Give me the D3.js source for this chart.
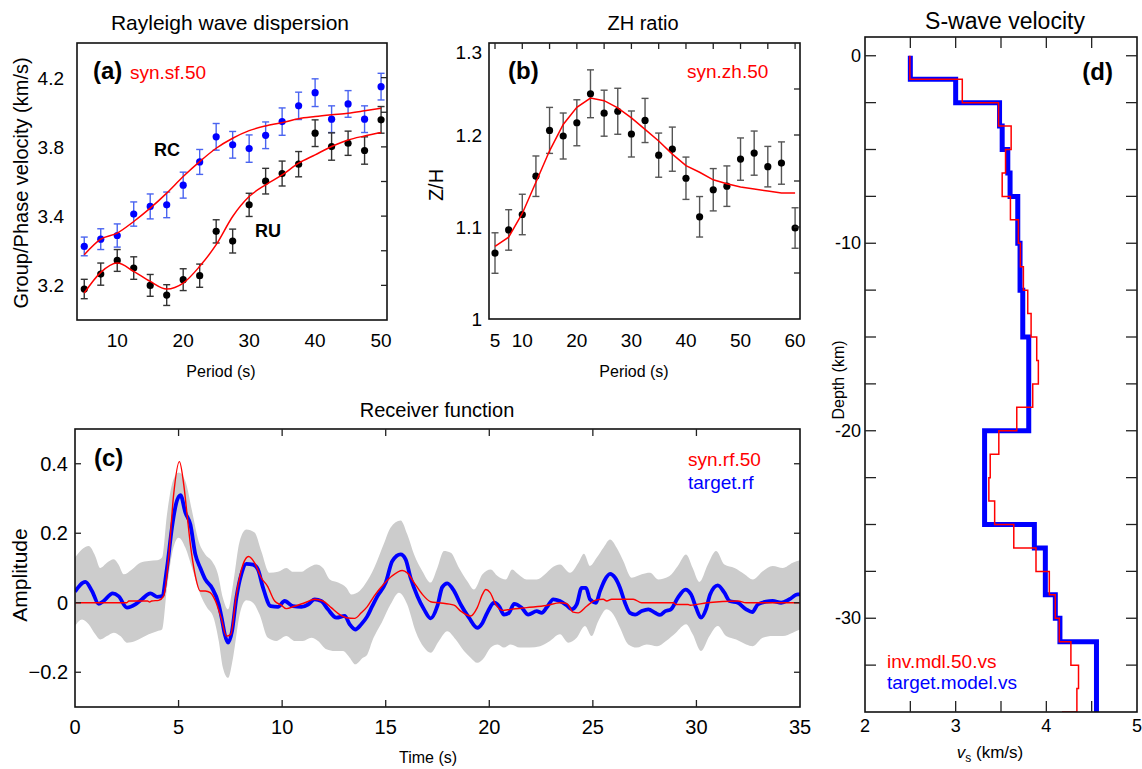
<!DOCTYPE html>
<html>
<head>
<meta charset="utf-8">
<script src="https://cdn.jsdelivr.net/npm/d3@7"></script>
<style>
body { margin: 0; background: #fff; }
svg { display: block; }
text { font-family: "Liberation Sans", Arial, Helvetica, sans-serif; }
</style>
</head>
<body>
<div id="fig"></div>
<script>
// ---- (a) Rayleigh wave dispersion ----
const periodA = [5, 7.5, 10, 12.5, 15, 17.5, 20, 22.5, 25, 27.5, 30, 32.5, 35, 37.5, 40, 42.5, 45, 47.5, 50];
const rcVel = [3.225, 3.267, 3.288, 3.412, 3.456, 3.465, 3.579, 3.713, 3.858, 3.812, 3.790, 3.867, 3.946, 4.037, 4.113, 3.960, 4.048, 3.960, 4.148];
const rcErr = [0.054, 0.06, 0.067, 0.07, 0.072, 0.074, 0.075, 0.072, 0.077, 0.077, 0.079, 0.077, 0.079, 0.079, 0.08, 0.077, 0.077, 0.077, 0.077];
const ruVel = [2.979, 3.065, 3.144, 3.100, 3.000, 2.944, 3.033, 3.056, 3.312, 3.256, 3.465, 3.602, 3.646, 3.700, 3.879, 3.802, 3.821, 3.779, 3.956];
const ruErr = [0.056, 0.064, 0.063, 0.065, 0.063, 0.06, 0.063, 0.067, 0.067, 0.069, 0.067, 0.074, 0.072, 0.073, 0.077, 0.079, 0.07, 0.079, 0.077];
const rcFit = [3.177, 3.267, 3.302, 3.369, 3.446, 3.533, 3.629, 3.715, 3.792, 3.85, 3.894, 3.921, 3.940, 3.963, 3.975, 3.985, 3.994, 4.008, 4.023];
const ruFit = [2.956, 3.075, 3.129, 3.081, 3.023, 2.979, 3.013, 3.110, 3.235, 3.398, 3.513, 3.581, 3.638, 3.706, 3.754, 3.802, 3.840, 3.863, 3.883];
const tickA_x = [10, 20, 30, 40, 50];
const tickA_y = [3.0, 3.4, 3.8, 4.2];
const tickA_ylab = ["3.2", "3.4", "3.8", "4.2"];
const tickA_right = [3.0, 3.2, 3.4, 3.6, 3.8, 4.0, 4.2];

// ---- (b) ZH ratio ----
const periodB = [5, 7.5, 10, 12.5, 15, 17.5, 20, 22.5, 25, 27.5, 30, 32.5, 35, 37.5, 40, 42.5, 45, 47.5, 50, 52.5, 55, 57.5, 60];
const zhObs = [1.0717, 1.0968, 1.1136, 1.1552, 1.2050, 1.1989, 1.2133, 1.2448, 1.2237, 1.2258, 1.2011, 1.2158, 1.1781, 1.1846, 1.1530, 1.1111, 1.1405, 1.1444, 1.1738, 1.1803, 1.1656, 1.1695, 1.0989];
const zhErr = [0.022, 0.022, 0.022, 0.022, 0.025, 0.025, 0.025, 0.026, 0.025, 0.025, 0.025, 0.024, 0.024, 0.024, 0.023, 0.022, 0.023, 0.022, 0.023, 0.024, 0.022, 0.023, 0.022];
const zhFit = [1.0789, 1.0889, 1.1147, 1.1487, 1.1828, 1.2115, 1.2301, 1.2401, 1.2373, 1.2294, 1.2186, 1.2061, 1.1935, 1.1792, 1.1667, 1.1595, 1.1513, 1.1470, 1.1434, 1.1412, 1.1391, 1.1369, 1.1369];
const tickB_x = [5, 10, 20, 30, 40, 50, 60];
const tickB_top = [5, 10, 15, 20, 25, 30, 35, 40, 45, 50, 55, 60];
const tickB_y = [1, 1.1, 1.2, 1.3];
const tickB_ylab = ["1", "1.1", "1.2", "1.3"];
const tickB_right = [1.05, 1.1, 1.15, 1.2, 1.25];

// ---- (c) Receiver function: [time, amplitude] ----
const targetRF = [[0,0.032],[0.5,0.060],[0.82,0.034],[1.14,-0.003],[1.38,0.005],[1.82,0.027],[2.1,0.019],[2.51,-0.014],[2.91,-0.005],[3.23,0.010],[3.64,0.027],[3.96,0.017],[4.2,0.019],[4.44,0.10],[4.68,0.216],[4.88,0.285],[5.09,0.310],[5.33,0.259],[5.57,0.225],[5.81,0.139],[6.05,0.10],[6.29,0.067],[6.61,0.043],[6.94,-0.005],[7.1,-0.05],[7.23,-0.091],[7.39,-0.115],[7.58,-0.082],[7.79,0.014],[8.03,0.082],[8.27,0.112],[8.59,0.110],[8.83,0.096],[9.07,0.045],[9.45,-0.010],[9.8,-0.012],[10.12,0.005],[10.52,-0.010],[10.93,-0.012],[11.25,-0.005],[11.57,0.010],[11.89,0.005],[12.21,-0.019],[12.62,-0.043],[13.02,-0.038],[13.26,-0.062],[13.53,-0.077],[13.82,-0.062],[14.1,-0.04],[14.35,-0.01],[14.6,0.019],[15.0,0.058],[15.32,0.120],[15.72,0.139],[15.96,0.125],[16.2,0.072],[16.53,0.019],[16.85,-0.019],[17.17,-0.045],[17.49,-0.010],[17.73,0.045],[17.97,0.056],[18.3,0.034],[18.62,-0.005],[19.02,-0.043],[19.42,-0.072],[19.67,-0.058],[19.9,-0.029],[20.23,0.0],[20.47,-0.010],[20.71,-0.034],[20.95,-0.029],[21.2,-0.003],[21.56,-0.014],[21.88,-0.034],[22.29,-0.024],[22.53,-0.029],[22.77,-0.014],[23.09,0.010],[23.41,0.005],[23.73,-0.007],[23.98,-0.019],[24.22,-0.005],[24.46,0.043],[24.67,0.043],[24.86,0.010],[25.15,0.0],[25.35,0.034],[25.59,0.067],[25.83,0.083],[26.07,0.072],[26.31,0.043],[26.55,0.0],[26.79,-0.029],[27.04,-0.034],[27.36,-0.024],[27.68,-0.019],[28.0,-0.029],[28.24,-0.035],[28.5,-0.024],[28.77,-0.019],[29.1,0.014],[29.47,0.038],[29.74,0.024],[29.98,-0.014],[30.22,-0.043],[30.46,-0.019],[30.66,0.024],[31.03,0.050],[31.35,0.029],[31.6,0.005],[32.0,0.0],[32.4,-0.019],[32.7,-0.027],[32.96,-0.005],[33.36,0.003],[33.68,0.005],[34.09,0.0],[34.49,0.010],[34.89,0.024],[35,0.024]];
const synRF = [[0,0],[2.5,0],[2.6,0.005],[3.5,0.005],[3.6,0.002],[3.7,0.005],[4.04,0.007],[4.28,0.019],[4.52,0.13],[4.76,0.31],[5.04,0.406],[5.25,0.34],[5.41,0.254],[5.57,0.168],[5.78,0.086],[6.05,0.034],[6.29,0.034],[6.53,0.029],[6.78,0.005],[7.06,-0.045],[7.31,-0.096],[7.52,-0.091],[7.79,0.024],[8.11,0.110],[8.38,0.133],[8.67,0.115],[8.99,0.072],[9.29,0.048],[9.64,0.005],[9.96,-0.007],[10.2,-0.017],[10.6,-0.010],[11.09,0.0],[11.57,0.010],[11.97,0.005],[12.37,-0.014],[12.78,-0.034],[13.1,-0.043],[13.5,-0.045],[13.82,-0.029],[14.1,-0.012],[14.44,0.019],[14.9,0.053],[15.3,0.077],[15.8,0.093],[16.04,0.086],[16.37,0.058],[16.77,0.024],[17.17,0.003],[17.57,0.0],[18.3,-0.007],[18.62,-0.024],[19.1,-0.038],[19.42,-0.014],[19.67,0.024],[19.83,0.038],[20.04,0.029],[20.31,-0.005],[20.63,-0.022],[21.03,-0.019],[21.8,-0.014],[22.77,-0.008],[23.41,0.0],[23.73,-0.002],[24.05,-0.027],[24.29,-0.029],[24.7,-0.010],[25.1,0.007],[25.5,0.010],[25.67,0.005],[25.91,0.010],[26.95,0.010],[27.36,0.0],[28.9,0.0],[29.0,-0.005],[29.6,-0.005],[29.7,-0.007],[30.5,0.0],[32.0,0.005],[32.4,0.0],[35,0.0]];
const bandUp = [[0,0.13],[0.34,0.154],[0.66,0.163],[0.98,0.134],[1.22,0.10],[1.54,0.115],[1.87,0.125],[2.1,0.110],[2.35,0.082],[2.75,0.096],[3.15,0.115],[3.56,0.120],[3.96,0.122],[4.2,0.130],[4.44,0.254],[4.68,0.34],[5.0,0.375],[5.33,0.35],[5.65,0.264],[5.97,0.177],[6.29,0.139],[6.61,0.12],[6.9,0.082],[7.14,0.014],[7.39,-0.019],[7.63,0.053],[7.95,0.177],[8.27,0.211],[8.67,0.202],[8.99,0.149],[9.39,0.086],[9.8,0.089],[10.2,0.10],[10.52,0.089],[10.93,0.089],[11.25,0.10],[11.65,0.110],[11.97,0.10],[12.3,0.067],[12.7,0.058],[13.1,0.043],[13.34,0.024],[13.74,0.034],[14.0,0.053],[14.44,0.10],[14.9,0.168],[15.23,0.216],[15.72,0.237],[16.04,0.197],[16.37,0.139],[16.77,0.091],[17.17,0.058],[17.49,0.10],[17.81,0.149],[18.14,0.144],[18.54,0.10],[18.94,0.062],[19.26,0.038],[19.67,0.082],[20.07,0.096],[20.4,0.077],[20.8,0.067],[21.1,0.096],[21.4,0.082],[21.8,0.067],[22.29,0.067],[22.69,0.082],[23.01,0.10],[23.41,0.110],[23.9,0.086],[24.3,0.115],[24.57,0.141],[24.86,0.106],[25.19,0.130],[25.51,0.158],[25.83,0.182],[26.15,0.158],[26.47,0.120],[26.87,0.072],[27.36,0.082],[27.76,0.086],[28.15,0.067],[28.7,0.077],[29.1,0.106],[29.5,0.139],[29.82,0.10],[30.14,0.060],[30.55,0.110],[30.95,0.149],[31.35,0.110],[31.84,0.10],[32.32,0.082],[32.72,0.067],[33.2,0.091],[33.68,0.106],[34.17,0.10],[34.65,0.115],[35,0.122]];
const bandLo = [[0,-0.067],[0.34,-0.048],[0.66,-0.062],[0.98,-0.091],[1.22,-0.106],[1.54,-0.096],[1.87,-0.086],[2.19,-0.096],[2.51,-0.115],[2.91,-0.110],[3.23,-0.101],[3.56,-0.091],[3.96,-0.082],[4.2,-0.077],[4.44,0.043],[4.68,0.139],[5.0,0.187],[5.33,0.158],[5.65,0.10],[6.05,0.024],[6.37,-0.014],[6.69,-0.043],[6.94,-0.11],[7.14,-0.187],[7.39,-0.216],[7.63,-0.158],[7.95,-0.034],[8.27,0.007],[8.59,0.0],[8.91,-0.034],[9.31,-0.101],[9.72,-0.110],[10.2,-0.096],[10.6,-0.110],[11.0,-0.110],[11.41,-0.101],[11.73,-0.110],[12.14,-0.134],[12.54,-0.139],[12.94,-0.139],[13.26,-0.158],[13.53,-0.177],[13.9,-0.158],[14.1,-0.15],[14.35,-0.110],[14.84,-0.053],[15.23,-0.005],[15.64,0.029],[16.04,-0.005],[16.44,-0.082],[16.85,-0.129],[17.17,-0.144],[17.57,-0.110],[17.97,-0.082],[18.38,-0.106],[18.78,-0.139],[19.1,-0.158],[19.42,-0.173],[19.75,-0.158],[20.07,-0.129],[20.4,-0.120],[20.71,-0.129],[21.03,-0.120],[21.48,-0.129],[21.96,-0.129],[22.45,-0.125],[22.93,-0.110],[23.41,-0.091],[23.81,-0.115],[24.22,-0.101],[24.62,-0.067],[24.94,-0.096],[25.26,-0.053],[25.67,-0.019],[25.99,-0.034],[26.31,-0.072],[26.71,-0.120],[27.11,-0.129],[27.6,-0.120],[28.1,-0.125],[28.53,-0.110],[29.01,-0.086],[29.5,-0.062],[29.82,-0.091],[30.22,-0.139],[30.63,-0.096],[31.03,-0.067],[31.43,-0.096],[31.92,-0.106],[32.4,-0.120],[32.72,-0.125],[33.2,-0.101],[33.68,-0.096],[34.17,-0.096],[34.65,-0.086],[35,-0.077]];
const tickC_x = [0, 5, 10, 15, 20, 25, 30, 35];
const tickC_y = [-0.2, 0, 0.2, 0.4];
const tickC_ylab = ["\u22120.2", "0", "0.2", "0.4"];

// ---- (d) S-wave velocity: layer tops (km) and vs (km/s) ----
const targetTop = [0, -1.25, -2.5, -3.75, -5, -6.25, -7.5, -10, -12.5, -15, -20, -25, -26.25, -28.75, -30, -31.25, -35];
const targetVs = [2.5, 3.0, 3.484, 3.513, 3.575, 3.6, 3.685, 3.71, 3.74, 3.806, 3.319, 3.868, 3.989, 4.099, 4.15, 4.553];
const invTop = [0, -1.25, -2.5, -3.75, -5, -6.25, -7.5, -8.75, -10, -11.25, -12.5, -13.75, -15, -16.25, -17.5, -18.75, -20, -21.25, -22.5, -23.75, -25, -26.25, -27.5, -28.75, -30, -31.25, -32.5, -33.75, -35, -36.25];
const invVs = [2.495, 3.073, 3.473, 3.612, 3.55, 3.513, 3.604, 3.692, 3.714, 3.747, 3.795, 3.832, 3.894, 3.912, 3.85, 3.674, 3.476, 3.381, 3.366, 3.43, 3.641, 3.886, 4.033, 4.099, 4.143, 4.271, 4.355, 4.337, 4.18];
const tickD_x = [2, 3, 4, 5];
const tickD_minor = [2.5, 3, 3.5, 4, 4.5];
const tickD_y = [0, -10, -20, -30];
const tickD_ylab = ["0", "-10", "-20", "-30"];
const tickD_side = [0, -2.5, -5, -7.5, -10, -12.5, -15, -17.5, -20, -22.5, -25, -27.5, -30, -32.5];

const svg = d3.select("#fig").append("svg").attr("width", 1142).attr("height", 769);

function clip(id, x0, y0, x1, y1) {
    svg.append("clipPath").attr("id", id).append("rect")
        .attr("x", x0).attr("y", y0).attr("width", x1 - x0).attr("height", y1 - y0);
}

function label(x, y, s, size, anchor, color, weight) {
    return svg.append("text").attr("x", x).attr("y", y).text(s)
        .style("font-size", size + "px")
        .attr("text-anchor", anchor || "start")
        .attr("fill", color || "#000")
        .style("font-weight", weight || "normal");
}

function vlabel(x, y, s, size) {
    svg.append("text").attr("transform", "translate(" + x + "," + y + ") rotate(-90)")
        .attr("text-anchor", "middle").style("font-size", size + "px").text(s);
}

// inward tick marks on one side of a frame
function ticks(side, vals, scale, pos, len) {
    vals.forEach(v => {
        let p = scale(v);
        let l = svg.append("line").attr("stroke", "#222").attr("stroke-width", 1.3);
        if (side == "left") l.attr("x1", pos).attr("x2", pos + len).attr("y1", p).attr("y2", p);
        if (side == "right") l.attr("x1", pos).attr("x2", pos - len).attr("y1", p).attr("y2", p);
        if (side == "top") l.attr("y1", pos).attr("y2", pos + len).attr("x1", p).attr("x2", p);
        if (side == "bottom") l.attr("y1", pos).attr("y2", pos - len).attr("x1", p).attr("x2", p);
    });
}

function box(x0, y0, x1, y1) {
    svg.append("rect").attr("x", x0).attr("y", y0).attr("width", x1 - x0).attr("height", y1 - y0)
        .attr("fill", "none").attr("stroke", "#111").attr("stroke-width", 1.6);
}

function errorbars(g, xs, ys, es, sx, sy, barColor, dotColor) {
    xs.forEach((p, i) => {
        let x = sx(p);
        g.append("line").attr("x1", x).attr("x2", x).attr("y1", sy(ys[i] - es[i])).attr("y2", sy(ys[i] + es[i]))
            .attr("stroke", barColor).attr("stroke-width", 1.4);
        [ys[i] - es[i], ys[i] + es[i]].forEach(v => {
            g.append("line").attr("x1", x - 3.5).attr("x2", x + 3.5).attr("y1", sy(v)).attr("y2", sy(v))
                .attr("stroke", barColor).attr("stroke-width", 1.4);
        });
    });
    g.selectAll(null).data(xs).enter().append("circle")
        .attr("cx", d => sx(d)).attr("cy", (d, i) => sy(ys[i])).attr("r", 3.6)
        .attr("fill", dotColor);
}

// ================= panel (a) =================
const xA = d3.scaleLinear().domain([3.9, 50.9]).range([77, 387]);
const yA = d3.scaleLinear().domain([2.8, 4.4]).range([320, 43]);
clip("clipA", 77, 43, 387, 320);
const gA = svg.append("g").attr("clip-path", "url(#clipA)");
errorbars(gA, periodA, rcVel, rcErr, xA, yA, "#4a64f0", "#0000ff");
errorbars(gA, periodA, ruVel, ruErr, xA, yA, "#333", "#000");
const lineA = d3.line().x((d, i) => xA(periodA[i])).y(d => yA(d)).curve(d3.curveMonotoneX);
[rcFit, ruFit].forEach(f => {
    gA.append("path").datum(f).attr("d", lineA).attr("fill", "none").attr("stroke", "#ff0000").attr("stroke-width", 1.5);
});
box(77, 43, 387, 320);
ticks("right", tickA_right, yA, 387, 6);
tickA_x.forEach(v => label(xA(v), 347, v, 19, "middle"));
tickA_y.forEach((v, i) => label(64, yA(v) + 7, tickA_ylab[i], 19, "end"));
label(230, 30, "Rayleigh wave dispersion", 21, "middle");
label(221, 377, "Period (s)", 16, "middle");
vlabel(28, 183, "Group/Phase velocity (km/s)", 20);
label(93, 79, "(a)", 24, "start", "#000", "bold");
label(130, 79, "syn.sf.50", 19, "start", "#ff0000");
label(167, 156, "RC", 18, "middle", "#000", "bold");
label(268, 237, "RU", 18, "middle", "#000", "bold");

// ================= panel (b) =================
const xB = d3.scaleLinear().domain([3.9, 60.9]).range([489, 800]);
const yB = d3.scaleLinear().domain([1.0, 1.3]).range([319, 43]);
clip("clipB", 489, 43, 800, 319);
const gB = svg.append("g").attr("clip-path", "url(#clipB)");
errorbars(gB, periodB, zhObs, zhErr, xB, yB, "#555", "#000");
const lineB = d3.line().x((d, i) => xB(periodB[i])).y(d => yB(d));
gB.append("path").datum(zhFit).attr("d", lineB).attr("fill", "none").attr("stroke", "#ff0000").attr("stroke-width", 1.5);
box(489, 43, 800, 319);
ticks("right", tickB_right, yB, 800, 6);
ticks("top", tickB_top, xB, 43, 6);
tickB_x.forEach(v => label(xB(v), 347, v, 19, "middle"));
tickB_y.forEach((v, i) => label(482, Math.max(yB(v), 52) + 7, tickB_ylab[i], 19, "end"));
label(643, 30, "ZH ratio", 20, "middle");
label(634, 377, "Period (s)", 16, "middle");
vlabel(443, 185, "Z/H", 20);
label(508, 79, "(b)", 24, "start", "#000", "bold");
label(687, 78, "syn.zh.50", 19, "start", "#ff0000");

// ================= panel (c) =================
const xC = d3.scaleLinear().domain([0, 35]).range([75, 800]);
const yC = d3.scaleLinear().domain([-0.3, 0.5]).range([707, 429]);
clip("clipC", 75, 429, 800, 707);
const gC = svg.append("g").attr("clip-path", "url(#clipC)");
const lineC = d3.line().x(d => xC(d[0])).y(d => yC(d[1])).curve(d3.curveMonotoneX);
const bandPath = lineC(bandUp) + "L" + lineC(bandLo.slice().reverse()).slice(1) + "Z";
gC.append("path").attr("d", bandPath).attr("fill", "#cccccc").attr("stroke", "none");
gC.append("path").datum(targetRF).attr("d", lineC).attr("fill", "none").attr("stroke", "#0000ff").attr("stroke-width", 3.8);
gC.append("path").datum(synRF).attr("d", lineC).attr("fill", "none").attr("stroke", "#ff0000").attr("stroke-width", 1.4);
box(75, 429, 800, 707);
ticks("top", tickC_x.slice(1, -1), xC, 429, 7);
ticks("bottom", tickC_x.slice(1, -1), xC, 707, 7);
ticks("left", tickC_y, yC, 75, 6);
ticks("right", tickC_y, yC, 800, 6);
tickC_x.forEach(v => label(xC(v), 734, v, 20, "middle"));
tickC_y.forEach((v, i) => label(68, yC(v) + 7, tickC_ylab[i], 20, "end"));
label(437, 417, "Receiver function", 20, "middle");
label(428, 763, "Time (s)", 16, "middle");
vlabel(27, 575, "Amplitude", 21);
label(94, 466, "(c)", 24, "start", "#000", "bold");
label(688, 466, "syn.rf.50", 19, "start", "#ff0000");
label(688, 489, "target.rf", 19, "start", "#0000ff");

// ================= panel (d) =================
const xD = d3.scaleLinear().domain([2, 5]).range([865, 1137]);
const yD = d3.scaleLinear().domain([-35, 1]).range([712, 37]);
clip("clipD", 865, 37, 1137, 712);
const gD = svg.append("g").attr("clip-path", "url(#clipD)");
function steps(tops, vs) {
    let pts = [];
    vs.forEach((v, i) => { pts.push([v, tops[i]]); pts.push([v, tops[i + 1]]); });
    return pts;
}
const lineD = d3.line().x(d => xD(d[0])).y(d => yD(d[1]));
gD.append("path").datum(steps(targetTop, targetVs)).attr("d", lineD).attr("fill", "none")
    .attr("stroke", "#0000ff").attr("stroke-width", 5);
gD.append("path").datum(steps(invTop, invVs)).attr("d", lineD).attr("fill", "none")
    .attr("stroke", "#ff0000").attr("stroke-width", 1.5);
box(865, 37, 1137, 712);
ticks("top", tickD_minor, xD, 37, 11);
ticks("bottom", tickD_minor, xD, 712, 11);
ticks("left", tickD_side, yD, 865, 11);
ticks("right", tickD_side, yD, 1137, 11);
tickD_x.forEach(v => label(xD(v), 732, v, 18, "middle"));
tickD_y.forEach((v, i) => label(861, yD(v) + 6, tickD_ylab[i], 18, "end"));
label(1005, 29, "S-wave velocity", 23, "middle");
vlabel(844, 380, "Depth (km)", 16);
label(1113, 80, "(d)", 24, "end", "#000", "bold");
label(887, 668, "inv.mdl.50.vs", 19, "start", "#ff0000");
label(887, 689, "target.model.vs", 19, "start", "#0000ff");
const vsLab = svg.append("text").attr("x", 990).attr("y", 758).attr("text-anchor", "middle").style("font-size", "17px");
vsLab.append("tspan").style("font-style", "italic").text("v");
vsLab.append("tspan").attr("dy", 4).style("font-size", "12px").text("s");
vsLab.append("tspan").attr("dy", -4).text(" (km/s)");
</script>
</body>
</html>
